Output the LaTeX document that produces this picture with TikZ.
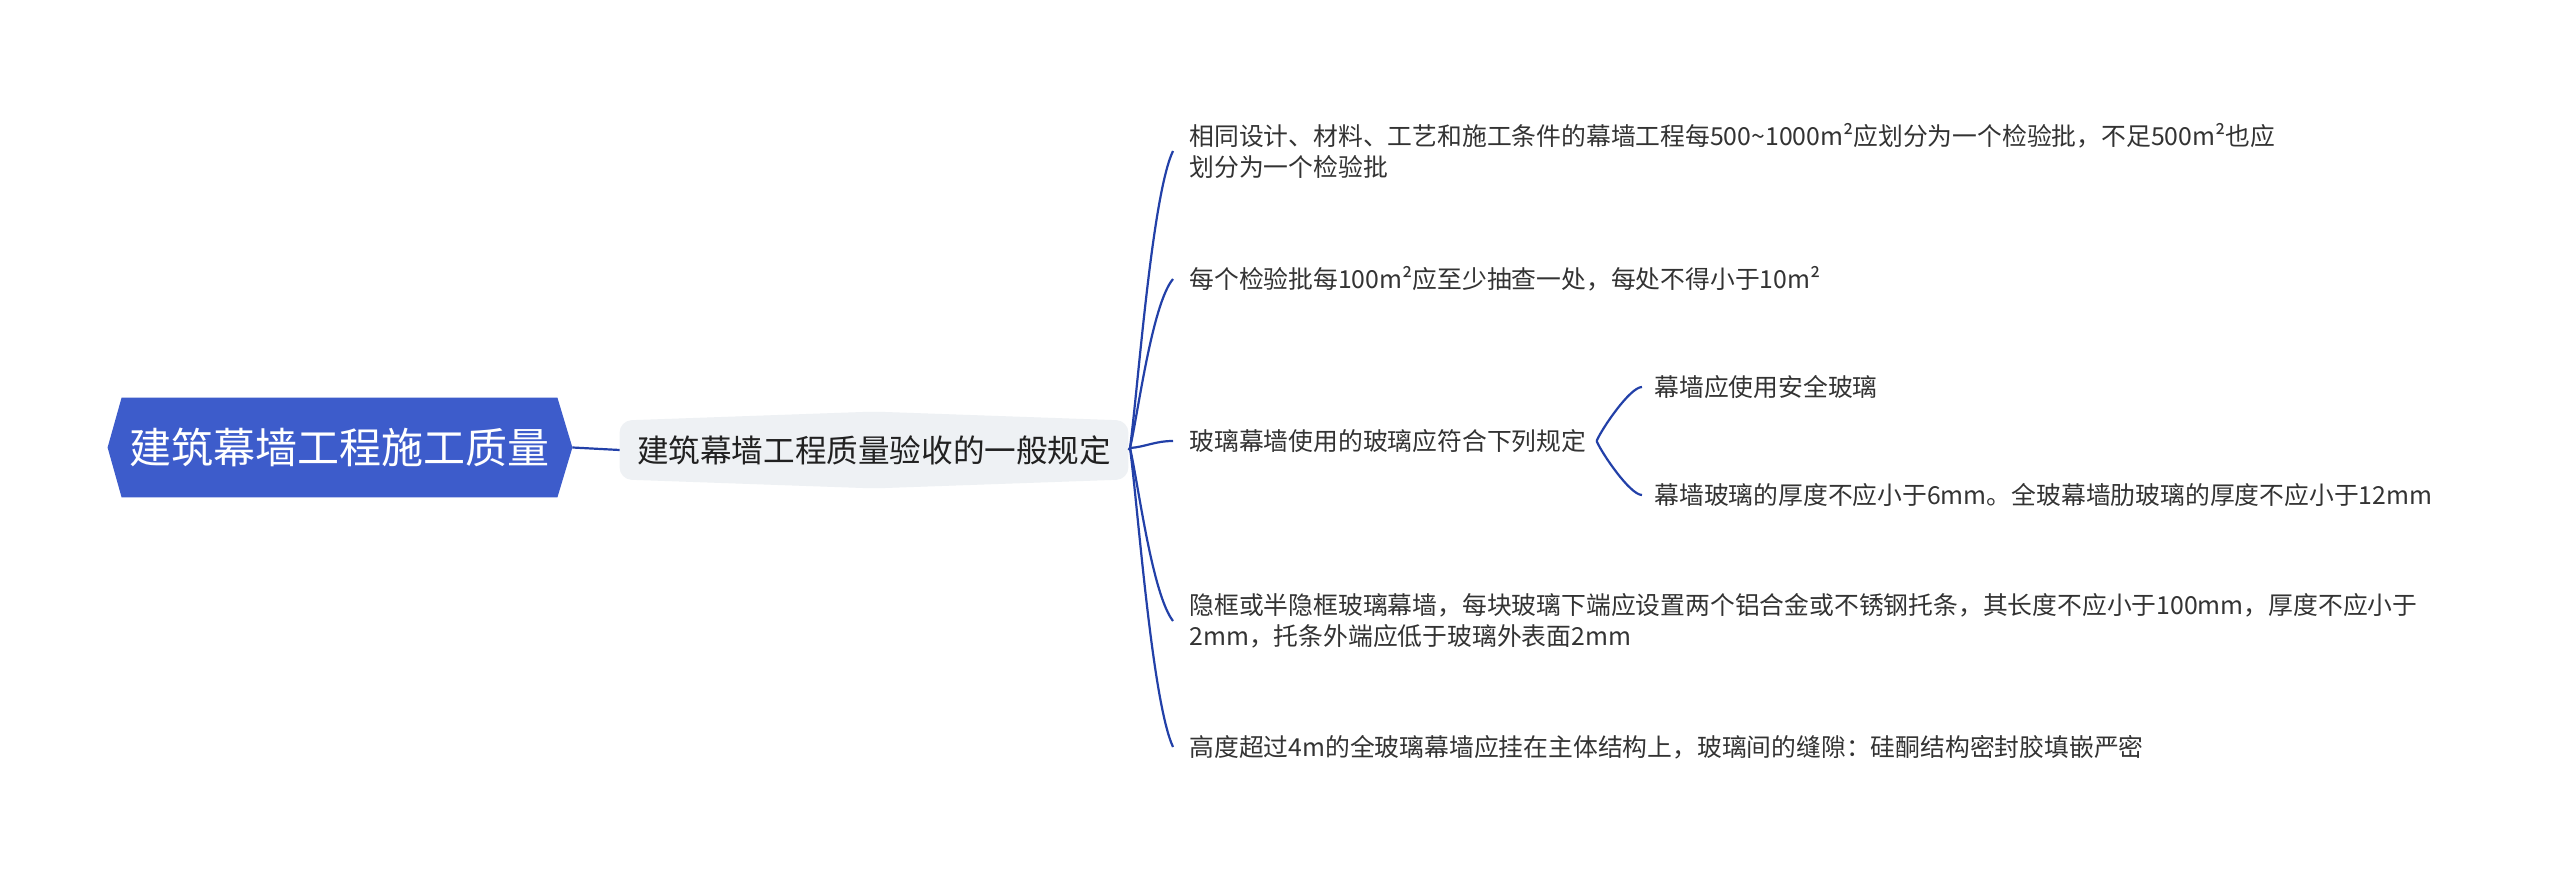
\documentclass[tikz,border=0pt]{standalone}
\usepackage{fontspec}
\setmainfont{Noto Sans CJK SC}
\usetikzlibrary{backgrounds}
\definecolor{rootblue}{HTML}{3D5CCB}
\definecolor{linkblue}{HTML}{2240A8}
\definecolor{subfill}{HTML}{EEF1F4}
\definecolor{txt}{HTML}{333333}
\begin{document}
\begin{tikzpicture}[x=0.5pt,y=-0.5pt,
  leaf/.style={anchor=west, inner sep=0pt, text=txt, font=\fontsize{12.4}{15.5}\selectfont, align=left},
  link/.style={draw=linkblue, line width=1.1pt},
  rootnode/.style={inner sep=0pt, minimum width=217.5pt, minimum height=49.5pt, text=white, font=\fontsize{21}{25}\selectfont},
  subnode/.style={inner sep=0pt, minimum width=254pt, minimum height=29pt, text=black!87, font=\fontsize{15.8}{19}\selectfont},
]
\useasboundingbox (0,0) rectangle (2560,881);

\node[rootnode] (root) at (339.5,447.5) {建筑幕墙工程施工质量};
\coordinate (rootR) at ([xshift=7.5pt]root.east);
\coordinate (rootL) at ([xshift=-7pt]root.west);

\node[subnode] (sub) at (874,450) {建筑幕墙工程质量验收的一般规定};

\begin{scope}[on background layer]
\fill[white] (0,0) rectangle (2560,881);
\fill[rootblue] (rootL) -- (root.north west) -- (root.north east) -- (rootR) -- (root.south east) -- (root.south west) -- cycle;
\fill[subfill, rounded corners=6pt] (sub.north west) -- ([yshift=4.5pt]sub.north) -- (sub.north east) -- (sub.south east) -- ([yshift=-4.5pt]sub.south) -- (sub.south west) -- cycle;
\end{scope}

\draw[link] (rootR) -- (sub.west);

\coordinate (o) at (1130,448);
\draw[link] (sub.east) -- (o);

\node[leaf] (l1) at (1189,151) {相同设计、材料、工艺和施工条件的幕墙工程每500\textasciitilde1000m²应划分为一个检验批，不足500m²也应\\划分为一个检验批};
\node[leaf] (l2) at (1189,279) {每个检验批每100m²应至少抽查一处，每处不得小于10m²};
\node[leaf] (l3) at (1189,441) {玻璃幕墙使用的玻璃应符合下列规定};
\node[leaf] (l4) at (1189,621) {隐框或半隐框玻璃幕墙，每块玻璃下端应设置两个铝合金或不锈钢托条，其长度不应小于100mm，厚度不应小于\\2mm，托条外端应低于玻璃外表面2mm};
\node[leaf] (l5) at (1189,747) {高度超过4m的全玻璃幕墙应挂在主体结构上，玻璃间的缝隙：硅酮结构密封胶填嵌严密};

\node[leaf] (s1) at (1654,387) {幕墙应使用安全玻璃};
\node[leaf] (s2) at (1654,495) {幕墙玻璃的厚度不应小于6mm。全玻幕墙肋玻璃的厚度不应小于12mm};

\draw[link] (o) .. controls (1138,388) and (1152,195) .. ([xshift=-8pt]l1.west);
\draw[link] (o) .. controls (1138,414) and (1152,304) .. ([xshift=-8pt]l2.west);
\draw[link] (o) .. controls (1145,447) and (1155,441) .. ([xshift=-8pt]l3.west);
\draw[link] (o) .. controls (1138,482) and (1152,594) .. ([xshift=-8pt]l4.west);
\draw[link] (o) .. controls (1138,508) and (1152,701) .. ([xshift=-8pt]l5.west);

\coordinate (o2) at ([xshift=5pt]l3.east);
\draw[link] (o2) .. controls +(5,-12) and +(-12,0) .. ([xshift=-6pt]s1.west);
\draw[link] (o2) .. controls +(5,12) and +(-12,0) .. ([xshift=-6pt]s2.west);
\end{tikzpicture}
\end{document}
